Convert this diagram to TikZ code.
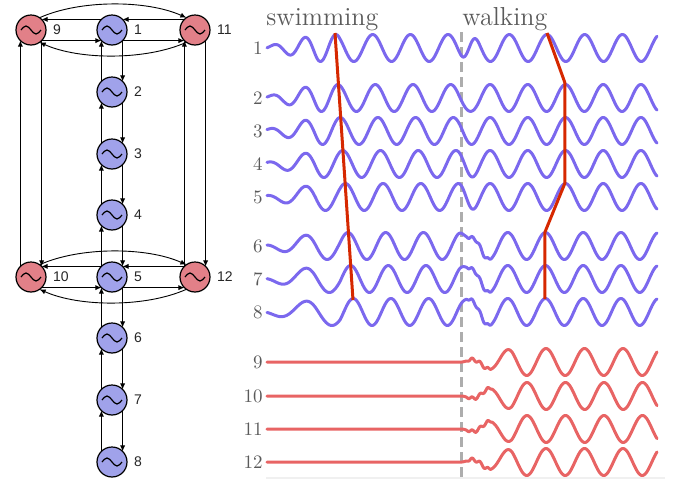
\documentclass[tikz,border=0pt]{standalone}
\usepackage{fontspec}
\newfontfamily\lsans{Liberation Sans}
\usetikzlibrary{arrows.meta}
\definecolor{nodeblue}{RGB}{160,162,234}
\definecolor{nodered}{RGB}{226,128,136}
\definecolor{waveblue}{RGB}{123,104,238}
\definecolor{wavered}{RGB}{232,100,100}
\definecolor{phasered}{RGB}{214,40,0}
\definecolor{txtgray}{RGB}{90,90,90}
\tikzset{
 osc/.style={circle, draw=black, line width=0.6pt, minimum size=15pt, inner sep=0pt, outer sep=0pt},
 bosc/.style={osc, fill=nodeblue},
 rosc/.style={osc, fill=nodered},
 lbl/.style={font=\lsans\fontsize{7}{8}\selectfont, text=black!85, label distance=0pt},
 link/.style={line width=0.45pt, -{Latex[length=3pt,width=2.6pt]}},
 bwave/.style={waveblue, line width=1.5pt, line join=round, line cap=round},
 rwave/.style={wavered, line width=1.5pt, line join=round, line cap=round},
 phase/.style={phasered, line width=1.5pt},
 rowlbl/.style={anchor=east, inner sep=0pt, text=txtgray, font=\fontsize{9.5}{11}\selectfont},
 ttl/.style={anchor=base west, inner sep=0pt, text=txtgray, font=\fontsize{13}{15}\selectfont},
 declare function={
  fcl(\z)=max(0,min(1,\z));
  fsst(\z)=fcl(\z)*fcl(\z)*(3-2*fcl(\z));
  fwarp(\xa,\pa)=\xa+(\pa-342.7)*2.086*max(0,340-\xa)/73;
  fenv(\xa)=0.12+0.88*fcl((\xa-267)/50);
  fsw(\xa,\pa)=fenv(\xa)*cos(((fwarp(\xa,\pa)-\pa)/37.7)*360);
  fwk(\xa,\qa)=cos(((\xa-\qa)/37.7)*360);
  fbl(\xa)=fsst((\xa-458)/22);
  fbmp(\xa)=sin(((\xa-462)/8)*360)*fcl((\xa-466)/4)*fcl((492-\xa)/4);
  fbw(\xa,\pa,\qa,\ba)=(1-fbl(\xa))*fsw(\xa,\pa)+fbl(\xa)*fwk(\xa,\qa)+\ba*fbmp(\xa);
  frw(\xa,\qa,\ba)=fcl((\xa-462)/50)*cos(((\xa-\qa)/38.5)*360)+\ba*fbmp(\xa);
 }
}
\newcommand\tld[1]{\draw[line width=0.6pt] ([xshift=-5pt]#1.center) sin ++(5,-4) cos ++(5,4) sin ++(5,4) cos ++(5,-4);}
\begin{document}
\begin{tikzpicture}[x=0.5pt,y=-0.5pt]
\useasboundingbox (0,0) rectangle (677,483);
% ---------------- oscillator graph ----------------
\node[rosc, label={[lbl]right:9}] (n9) at (31,30) {};
\node[bosc, label={[lbl]right:1}] (n1) at (112,30) {};
\node[rosc, label={[lbl]right:11}] (n11) at (195,30) {};
\node[bosc, label={[lbl]right:2}] (n2) at (112,92) {};
\node[bosc, label={[lbl]right:3}] (n3) at (112,154) {};
\node[bosc, label={[lbl]right:4}] (n4) at (112,215) {};
\node[rosc, label={[lbl]right:10}] (n10) at (31,277) {};
\node[bosc, label={[lbl]right:5}] (n5) at (112,277) {};
\node[rosc, label={[lbl]right:12}] (n12) at (195,277) {};
\node[bosc, label={[lbl]right:6}] (n6) at (112,338) {};
\node[bosc, label={[lbl]right:7}] (n7) at (112,400) {};
\node[bosc, label={[lbl]right:8}] (n8) at (112,462) {};
\foreach \n in {n1,n2,n3,n4,n5,n6,n7,n8,n9,n10,n11,n12} {\tld{\n}}
% horizontal pairs (a left of b)
\foreach \a/\b in {n9/n1, n1/n11, n10/n5, n5/n12} {
 \draw[link] (\b.135) -- (\a.45);
 \draw[link] (\a.-45) -- (\b.-135);
}
% vertical pairs (a above b)
\foreach \a/\b in {n9/n10, n11/n12, n1/n2, n2/n3, n3/n4, n4/n5, n5/n6, n6/n7, n7/n8} {
 \draw[link] (\a.-45) -- (\b.45);
 \draw[link] (\b.135) -- (\a.-135);
}
% arcs
\foreach \a/\b in {n9/n11, n10/n12} {
 \draw[link] (\a.55) .. controls +(40,-18) and +(-40,-18) .. (\b.125);
 \draw[link] (\b.-125) .. controls +(-40,18) and +(40,18) .. (\a.-55);
}
% ---------------- waveforms ----------------
\draw[black!6, line width=0.8pt] (266,478) -- (665,478);
\draw[black!32, line width=1.5pt, dash pattern=on 5pt off 2.5pt] (462,32) -- (462,479);
\node[ttl] (tsw) at (266,25) {swimming};
\node[ttl] (twk) at (462,25) {walking};
\foreach \yc/\p/\q/\b/\lab in {48/335/547/0/1, 98/337.6/565.5/0/2, 131/340.2/565.5/0/3, 164/342.8/565.5/0/4, 197/345.4/565.5/0/5, 246/348/545.5/0.12/6, 279/350.6/545.5/0.12/7, 312/353.2/545.5/0.12/8} {
 \node[rowlbl] (r\lab) at (263,\yc) {\lab};
 \draw[bwave] plot[domain=267:657, samples=391] (\x,{\yc-13.5*fbw(\x,\p,\q,\b)});
}
\foreach \yc/\q/\b/\lab in {362/546/0.12/9, 396/565.5/0.12/10, 429/565.5/0.12/11, 462/546/0.12/12} {
 \node[rowlbl] (r\lab) at (263,\yc) {\lab};
 \draw[rwave] plot[domain=267:657, samples=391] (\x,{\yc-13.5*frw(\x,\q,\b)});
}
% phase lines
\coordinate (s1) at (335,33);
\coordinate (s8) at (353,300);
\draw[phase] (s1) -- (s8);
\coordinate (w1) at (547,33);
\coordinate (w2) at (565,83);
\coordinate (w5) at (565,183);
\coordinate (w6) at (545,232);
\coordinate (w8) at (545,299);
\draw[phase, line join=round] (w1) -- (w2) -- (w5) -- (w6) -- (w8);
\end{tikzpicture}
\end{document}
